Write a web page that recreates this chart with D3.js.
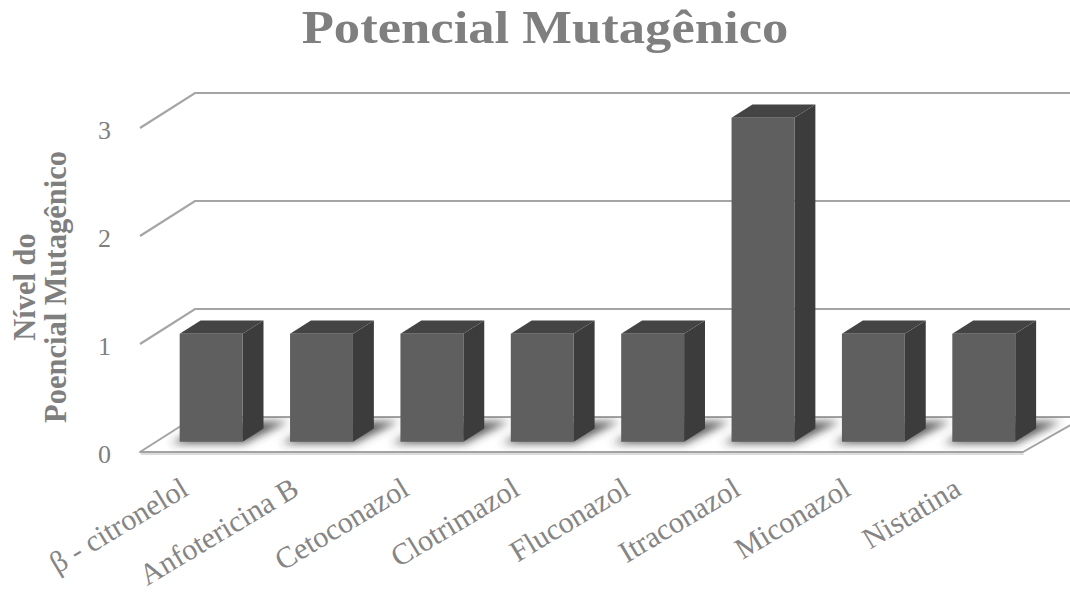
<!DOCTYPE html>
<html>
<head>
<meta charset="utf-8">
<script src="https://cdn.jsdelivr.net/npm/d3@7"></script>
<style>
  html, body { margin: 0; padding: 0; background: #ffffff; }
  svg { display: block; }
</style>
</head>
<body>
<svg id="chart" width="1070" height="596"></svg>
<script>
// Data
const categories = ["β - citronelol", "Anfotericina B", "Cetoconazol", "Clotrimazol",
                    "Fluconazol", "Itraconazol", "Miconazol", "Nistatina"];
const values = [1, 1, 1, 1, 1, 3, 1, 1];
const yTicks = [0, 1, 2, 3];
const chartTitle = "Potencial Mutagênico";
const axisTitleLines = ["Nível do", "Poencial Mutagênico"];

// Geometry of the oblique 3D plot box
const depthDx = 55, depthDy = -35;      // offset from front plane to back wall
const barFront = 0.29, barBack = 0.67;  // bar placement along depth (0 = front, 1 = back)
const wallRight = 1085;

const svg = d3.select("#chart");
const font = "'Liberation Serif', 'Times New Roman', serif";
const textGray = "#7f7f7f";

const x = d3.scaleBand()
  .domain(categories)
  .range([140, 1023])
  .paddingInner(0.43)
  .paddingOuter(0.215);

const y = d3.scaleLinear().domain([0, 3]).range([452, 128]);

// project a point on the front plane back by depth fraction t
const proj = (px, py, t) => [px + t * depthDx, py + t * depthDy];
const poly = pts => pts.map(p => p.join(",")).join(" ");

const defs = svg.append("defs");
defs.append("filter").attr("id", "soft")
  .attr("x", "-30%").attr("y", "-30%").attr("width", "160%").attr("height", "160%")
  .append("feGaussianBlur").attr("stdDeviation", 4);

// Floor slab
const x0 = x.range()[0], x1 = x.range()[1];
const floorPts = [[x0, y(0)], proj(x0, y(0), 1), [wallRight, y(0) + depthDy], [x1, y(0)]];
defs.append("clipPath").attr("id", "floorClip")
  .append("polygon").attr("points", poly(floorPts));

svg.append("polygon")
  .attr("points", poly([[x0, y(0)], [x1, y(0)], [x1 + 1, y(0) + 3], [x0 + 1, y(0) + 3]]))
  .attr("fill", "#dcdcdc");
svg.append("polygon")
  .attr("points", poly(floorPts))
  .attr("fill", "#ffffff")
  .attr("stroke", "#a3a3a3")
  .attr("stroke-width", 2)
  .attr("stroke-linejoin", "round");

// Gridlines on the side and back walls
const grid = svg.append("g");
yTicks.filter(v => v > 0).forEach(v => {
  const a = [x0, y(v)], b = proj(x0, y(v), 1), c = [wallRight, y(v) + depthDy];
  grid.append("path")
    .attr("d", d3.line()([a, b, c]))
    .attr("fill", "none")
    .attr("stroke", "#a5a5a5")
    .attr("stroke-width", 2.2);
});

// Shadows of the columns on the floor
const shadows = svg.append("g").attr("clip-path", "url(#floorClip)")
  .append("g").attr("filter", "url(#soft)");
categories.forEach(c => {
  const l = x(c) - 6, r = x(c) + x.bandwidth() + 4;
  const pts = [
    proj(l, y(0), barFront - 0.05), proj(r, y(0), barFront - 0.05),
    proj(r + 10, y(0), barBack + 0.2), proj(l + 6, y(0), barBack + 0.2)
  ];
  shadows.append("polygon")
    .attr("points", poly(pts))
    .attr("fill", "#3a3a3a")
    .attr("opacity", 0.8);
});

// Columns
const bars = svg.append("g");
categories.forEach((c, i) => {
  const v = values[i];
  const l = x(c), r = x(c) + x.bandwidth();
  const ftl = proj(l, y(v), barFront), ftr = proj(r, y(v), barFront);
  const fbl = proj(l, y(0), barFront), fbr = proj(r, y(0), barFront);
  const btl = proj(l, y(v), barBack), btr = proj(r, y(v), barBack);
  const bbr = proj(r, y(0), barBack);
  const g = bars.append("g");
  g.append("polygon").attr("points", poly([ftr, btr, bbr, fbr])).attr("fill", "#3c3c3c");
  g.append("polygon").attr("points", poly([ftl, ftr, btr, btl])).attr("fill", "#444444");
  g.append("polygon").attr("points", poly([ftl, ftr, fbr, fbl])).attr("fill", "#5f5f5f");
});

// Value axis tick labels
svg.append("g").selectAll("text")
  .data(yTicks)
  .join("text")
  .attr("x", 111)
  .attr("y", d => y(d) + 2)
  .attr("text-anchor", "end")
  .attr("dominant-baseline", "central")
  .attr("font-family", font)
  .attr("font-size", 26)
  .attr("fill", textGray)
  .text(d => d);

// Category labels, rotated
svg.append("g").selectAll("text")
  .data(categories)
  .join("text")
  .attr("transform", d => `translate(${x(d) + x.bandwidth() / 2 - 5},${494}) rotate(-31)`)
  .attr("text-anchor", "end")
  .attr("font-family", font)
  .attr("font-size", 30)
  .attr("fill", "#858585")
  .text(d => d);

// Chart title
svg.append("text")
  .attr("transform", "translate(545,43) scale(1.12,1)")
  .attr("text-anchor", "middle")
  .attr("font-family", font)
  .attr("font-weight", "bold")
  .attr("font-size", 47)
  .attr("fill", textGray)
  .text(chartTitle);

// Value axis title (two lines, rotated)
axisTitleLines.forEach((line, i) => {
  svg.append("text")
    .attr("transform", `translate(${35 + i * 31},287) rotate(-90)`)
    .attr("text-anchor", "middle")
    .attr("font-family", font)
    .attr("font-weight", "bold")
    .attr("font-size", 30.5)
    .attr("fill", textGray)
    .text(line);
});
</script>
</body>
</html>
